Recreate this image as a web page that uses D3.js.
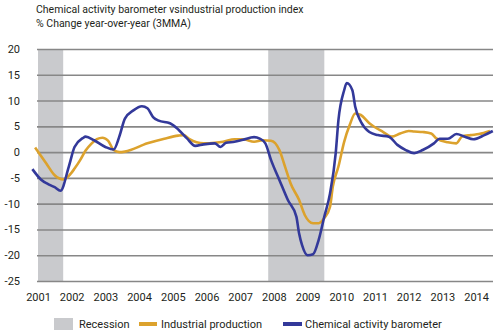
<html>
<head>
<meta charset="utf-8">
<script src="https://cdn.jsdelivr.net/npm/d3@7"></script>
<style>
body { margin: 0; background: #fff; }
text { font-family: Roboto, "Liberation Sans", sans-serif; fill: #231f20; }
</style>
</head>
<body>
<div id="chart"></div>
<script>
// chemical activity barometer, % change y/y (3MMA)
var cabMonths = ["2000-11","2001-02","2001-05","2001-07","2001-09","2001-12","2002-02","2002-05","2002-06","2002-09",
  "2003-01","2003-04","2003-06","2003-08","2003-11","2004-02","2004-04","2004-06","2004-08","2004-12",
  "2005-03","2005-06","2005-09","2005-12","2006-04","2006-06","2006-08","2006-11","2007-02","2007-06",
  "2007-08","2007-10","2007-12","2008-03","2008-06","2008-09","2008-10","2008-11","2009-01","2009-03",
  "2009-05","2009-07","2009-09","2009-11","2009-12","2010-02","2010-03","2010-05","2010-06","2010-08",
  "2010-11","2011-02","2011-06","2011-09","2011-12","2012-03","2012-06","2012-10","2012-12","2013-03",
  "2013-06","2013-09","2013-12","2014-04","2014-07"];
var cabValues = [-3.3,-5.3,-6.3,-6.8,-7.5,-2.8,1.0,2.7,3.0,2.3,
  1.0,0.5,3.0,6.5,8.1,8.9,8.5,6.8,6.1,5.6,
  4.4,2.7,1.2,1.5,1.7,1.0,1.8,2.0,2.4,2.9,
  2.6,1.7,-1.5,-5.4,-9.3,-12.5,-15.8,-18.0,-20.0,-19.8,
  -17.0,-12.5,-8.0,-0.3,6.2,12.0,13.4,12.0,8.8,5.9,
  3.9,3.3,3.0,1.4,0.4,-0.2,0.4,1.7,2.6,2.6,
  3.5,3.0,2.5,3.3,4.1];

// industrial production index, % change y/y (3MMA)
var ipMonths = ["2000-12","2001-04","2001-07","2001-10","2001-12","2002-02","2002-04","2002-06","2002-08","2002-10",
  "2002-12","2003-01","2003-02","2003-04","2003-06","2003-08","2004-04","2004-10","2005-03","2005-05","2005-07",
  "2005-12","2006-04","2006-07","2006-11","2007-02","2007-06","2007-09","2007-12","2008-03","2008-05",
  "2008-07","2008-10","2008-12","2009-03","2009-05","2009-07","2009-09","2009-10","2009-12","2010-02",
  "2010-04","2010-06","2010-08","2010-11","2011-04","2011-07","2011-10","2012-01","2012-03","2012-06",
  "2012-09","2012-11","2013-03","2013-06","2013-08","2013-11","2014-02","2014-06"];
var ipValues = [0.9,-2.2,-4.5,-5.3,-4.6,-3.2,-1.6,0.3,1.6,2.5,
  2.8,2.6,2.2,0.4,0.0,0.1,1.7,2.6,3.2,3.3,2.5,
  1.7,1.8,2.0,2.5,2.5,2.0,2.3,2.2,0.4,-2.8,
  -6.1,-9.3,-12.2,-13.8,-13.8,-12.8,-10.6,-6.7,-2.8,2.0,
  5.2,7.5,7.2,5.6,3.9,3.0,3.6,4.1,4.0,3.9,
  3.6,2.6,1.9,1.7,3.0,3.3,3.5,4.1];

var recessionStarts = ["2001-01","2007-11"];
var recessionEnds = ["2001-10","2009-07"];

var yTicks = [20,15,10,5,0,-5,-10,-15,-20,-25];
var yearLabels = ["2001","2002","2003","2004","2005","2006","2007","2008","2009","2010","2011","2012","2013","2014"];

var parseMonth = d3.timeParse("%Y-%m");
var blue = "#33399a", gold = "#dca22d", shade = "#c9cacd";

var svg = d3.select("#chart").append("svg")
  .attr("width", 500).attr("height", 333);

var plotL = 37, plotR = 493, plotT = 49, plotB = 281;

var x = d3.scaleTime()
  .domain([parseMonth("2001-01"), parseMonth("2014-01")])
  .range([38, 38 + 13 * 33.7]);
var y = d3.scaleLinear().domain([-25, 20]).range([plotB, plotT]);

// title
svg.append("text").attr("x", 36).attr("y", 13).style("font-size", "10.5px")
  .text("Chemical activity barometer vsindustrial production index");
svg.append("text").attr("x", 36).attr("y", 27).style("font-size", "10.5px")
  .text("% Change year-over-year (3MMA)");

// recession bands
svg.selectAll("rect.recession")
  .data(recessionStarts.map(function(s, i){ return {s: parseMonth(s), e: parseMonth(recessionEnds[i])}; }))
  .enter().append("rect")
  .attr("class", "recession")
  .attr("x", function(d){ return Math.max(plotL, x(d.s)); })
  .attr("width", function(d){ return x(d.e) - Math.max(plotL, x(d.s)); })
  .attr("y", plotT)
  .attr("height", plotB - plotT)
  .style("fill", shade);

// horizontal grid + y labels (plain hyphen for negatives)
var yAxis = d3.axisLeft(y).tickValues(yTicks).tickSize(-(plotR - plotL)).tickPadding(17)
  .tickFormat(function(d){ return String(d); });
var gy = svg.append("g").attr("transform", "translate(" + plotL + ",0)").call(yAxis);
gy.select(".domain").remove();
gy.selectAll(".tick line").style("stroke", "#878787").style("stroke-width", 1.6);
gy.selectAll(".tick text").style("font-size", "11px").style("fill", "#231f20")
  .style("font-family", "Roboto, sans-serif");

// year labels
var xAxis = d3.axisBottom(x)
  .tickValues(yearLabels.map(function(s){ return parseMonth(s + "-01"); }))
  .tickFormat(d3.timeFormat("%Y")).tickSize(0).tickPadding(12);
var gx = svg.append("g").attr("transform", "translate(0," + plotB + ")").call(xAxis);
gx.select(".domain").remove();
gx.selectAll(".tick text").style("font-size", "11px").style("fill", "#231f20")
  .style("font-family", "Roboto, sans-serif");

var line = d3.line()
  .x(function(d){ return x(d.date); })
  .y(function(d){ return y(d.value); })
  .curve(d3.curveMonotoneX);

function series(months, values) {
  return months.map(function(m, i){ return {date: parseMonth(m), value: values[i]}; });
}

svg.append("path").datum(series(ipMonths, ipValues))
  .attr("d", line).style("fill", "none").style("stroke", gold).style("stroke-width", 2.6);
svg.append("path").datum(series(cabMonths, cabValues))
  .attr("d", line).style("fill", "none").style("stroke", blue).style("stroke-width", 2.6);

// legend
var lg = svg.append("g").attr("transform", "translate(0,324)");
lg.append("rect").attr("x", 54).attr("y", -6).attr("width", 19).attr("height", 12).style("fill", shade);
lg.append("text").attr("x", 79).attr("y", 4).style("font-size", "11px").text("Recession");
lg.append("rect").attr("x", 139).attr("y", -2).attr("width", 18).attr("height", 4).style("fill", gold);
lg.append("text").attr("x", 161).attr("y", 4).style("font-size", "11px").text("Industrial production");
lg.append("rect").attr("x", 283).attr("y", -2).attr("width", 19).attr("height", 4).style("fill", blue);
lg.append("text").attr("x", 305).attr("y", 4).style("font-size", "11px").text("Chemical activity barometer");
</script>
</body>
</html>
